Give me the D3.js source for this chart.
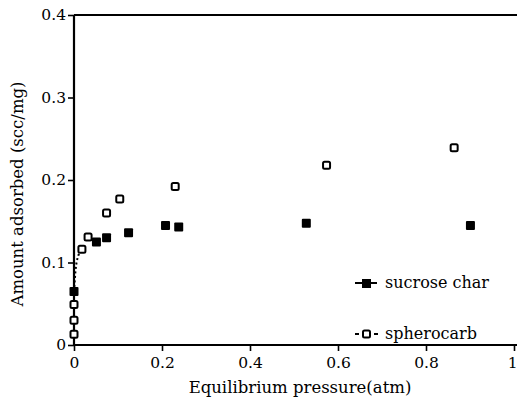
<!DOCTYPE html>
<html><head><meta charset="utf-8">
<script src="https://cdn.jsdelivr.net/npm/d3@7"></script>
<style>body{margin:0;background:#fff}svg{display:block}text{font-family:"DejaVu Serif",serif;fill:#000}</style>
</head><body><svg id="c" width="517" height="406"></svg>
<script>
const xTicks = [0, 0.2, 0.4, 0.6, 0.8, 1];
const xTickLabels = ["0", "0.2", "0.4", "0.6", "0.8", "1"];
const yTicks = [0, 0.1, 0.2, 0.3, 0.4];
const yTickLabels = ["0", "0.1", "0.2", "0.3", "0.4"];
const sucroseP = [0, 0.051, 0.074, 0.124, 0.208, 0.238, 0.528, 0.901];
const sucroseA = [0.065, 0.125, 0.130, 0.136, 0.145, 0.143, 0.1475, 0.145];
const spheroP = [0, 0, 0, 0.018, 0.032, 0.074, 0.104, 0.23, 0.574, 0.864];
const spheroA = [0.013, 0.030, 0.049, 0.116, 0.131, 0.160, 0.177, 0.192, 0.218, 0.239];
const spheroCurveP = [0, 0.002, 0.004, 0.007, 0.011, 0.018];
const spheroCurveA = [0.065, 0.080, 0.093, 0.103, 0.110, 0.116];
const seriesNames = ["sucrose char", "spherocarb"];
const xTitle = "Equilibrium pressure(atm)";
const yTitle = "Amount adsorbed (scc/mg)";

const svg = d3.select("#c");
const x = d3.scaleLinear().domain([0, 1]).range([74, 514]);
const y = d3.scaleLinear().domain([0, 0.4]).range([345, 15]);

// top border
svg.append("line").attr("x1", x(0)).attr("x2", 517).attr("y1", y(0.4)).attr("y2", y(0.4))
  .attr("stroke", "#000").attr("stroke-width", 2);

const xAxis = svg.append("g").attr("transform", `translate(0,${y(0)})`)
  .call(d3.axisBottom(x).tickValues(xTicks).tickFormat((d, i) => xTickLabels[i]).tickSize(6).tickPadding(6));
const yAxis = svg.append("g").attr("transform", `translate(${x(0)},0)`)
  .call(d3.axisLeft(y).tickValues(yTicks).tickFormat((d, i) => yTickLabels[i]).tickSize(6).tickPadding(2));
[xAxis, yAxis].forEach(g => {
  g.select(".domain").attr("stroke-width", 2.2);
  g.selectAll(".tick line").attr("stroke-width", 1.6);
  g.selectAll("text").attr("font-size", 15.5).attr("font-family", "DejaVu Serif");
});
xAxis.select(".domain").attr("d", `M${x(0)},0H517`);
yAxis.select(".domain").attr("d", `M0,${y(0)}V${y(0.4)}`);
// last x label sits at the right edge
xAxis.selectAll(".tick text").filter(d => d === 1).attr("text-anchor", "end").attr("dx", 3);

// dashed low-pressure curve of spherocarb
const line = d3.line().x(d => x(d[0])).y(d => y(d[1])).curve(d3.curveMonotoneY);
svg.append("path").datum(spheroCurveP.map((p, i) => [p, spheroCurveA[i]]))
  .attr("d", line).attr("fill", "none").attr("stroke", "#000").attr("stroke-width", 2)
  .attr("stroke-dasharray", "2,2.5");

// spherocarb (open)
svg.append("g").selectAll("rect").data(spheroP.map((p, i) => [p, spheroA[i]])).join("rect")
  .attr("x", d => x(d[0]) - 3.5).attr("y", d => y(d[1]) - 3.5).attr("width", 7).attr("height", 7)
  .attr("rx", 1.5).attr("fill", "#fff").attr("stroke", "#000").attr("stroke-width", 2);
// sucrose char (filled)
svg.append("g").selectAll("rect").data(sucroseP.map((p, i) => [p, sucroseA[i]])).join("rect")
  .attr("x", d => x(d[0]) - 4.5).attr("y", d => y(d[1]) - 4.5).attr("width", 9).attr("height", 9)
  .attr("rx", 1).attr("fill", "#000");

// legend
const lg = svg.append("g");
lg.append("line").attr("x1", 355).attr("x2", 377).attr("y1", 283).attr("y2", 283).attr("stroke", "#000").attr("stroke-width", 2);
lg.append("rect").attr("x", 362).attr("y", 279).attr("width", 9).attr("height", 9).attr("fill", "#000");
lg.append("text").attr("x", 385).attr("y", 288).attr("font-size", 16).text(seriesNames[0]);
lg.append("line").attr("x1", 355).attr("x2", 378).attr("y1", 334).attr("y2", 334).attr("stroke", "#000").attr("stroke-width", 2).attr("stroke-dasharray", "4,15,4");
lg.append("rect").attr("x", 363).attr("y", 330.5).attr("width", 7).attr("height", 7).attr("rx", 1.5).attr("fill", "#fff").attr("stroke", "#000").attr("stroke-width", 2);
lg.append("text").attr("x", 385).attr("y", 339).attr("font-size", 16).text(seriesNames[1]);

// titles
svg.append("text").attr("x", 300).attr("y", 393).attr("text-anchor", "middle").attr("font-size", 16.5).text(xTitle);
svg.append("text").attr("transform", "translate(23,194) rotate(-90)").attr("text-anchor", "middle").attr("font-size", 16.5).text(yTitle);
</script></body></html>
